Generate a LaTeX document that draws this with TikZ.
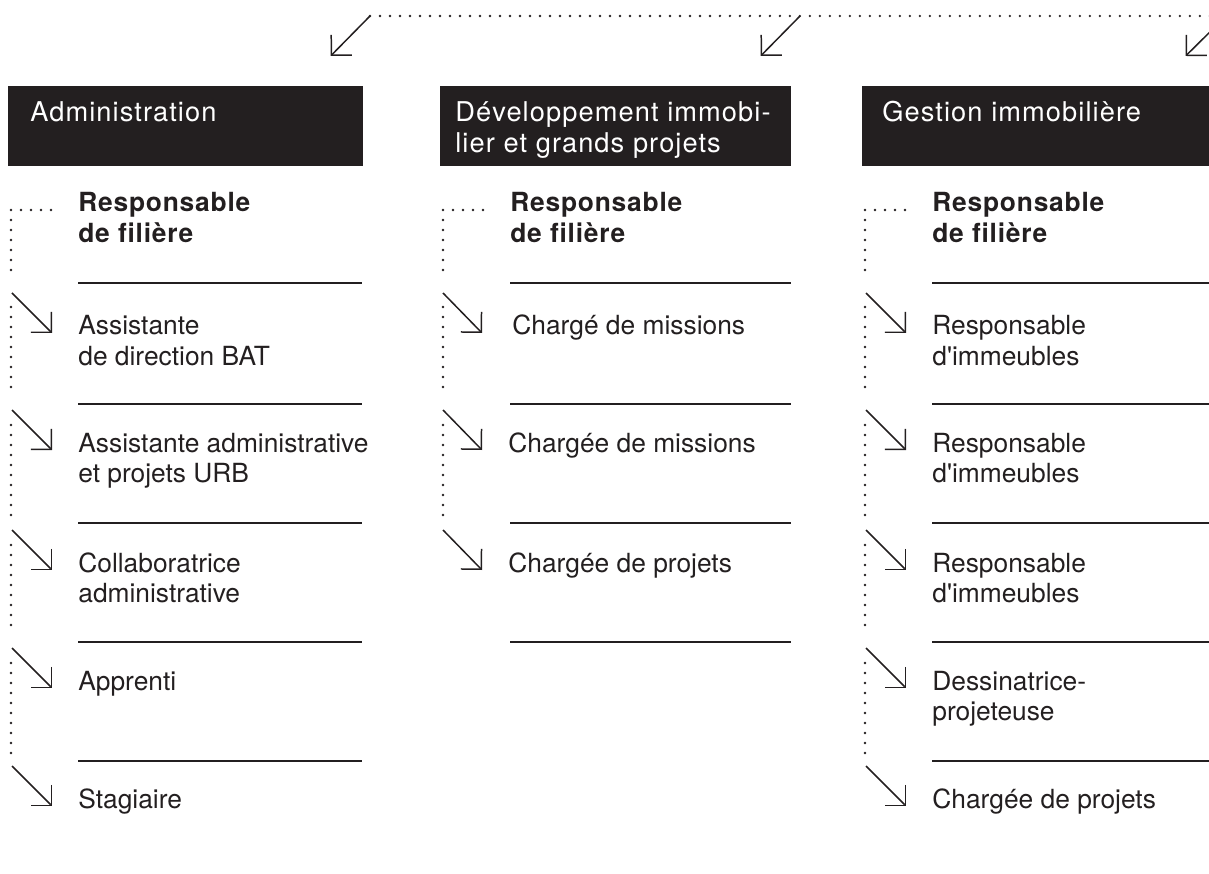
\documentclass[tikz,border=0pt]{standalone}
\usepackage{fontspec}
\usetikzlibrary{arrows.meta}
\definecolor{ink}{HTML}{231F20}
\newfontfamily\headfont[LetterSpace=4,Ligatures=NoCommon]{TeX Gyre Heros}
\newfontfamily\bodyfont[Ligatures=NoCommon]{TeX Gyre Heros}
\newfontfamily\leadfont[LetterSpace=3,Ligatures=NoCommon]{TeX Gyre Heros}
% two lines whose baseline is the first one
\newcommand\twoline[2]{\vtop{\hbox{#1}\hbox{#2}}}

\begin{document}
\begin{tikzpicture}[
  x=0.02cm, y=-0.02cm,
  header/.style={fill=ink, draw=none, anchor=north west, inner sep=0pt,
    minimum width=7.1cm, minimum height=1.6cm},
  headtext/.style={text=white, anchor=base west, inner sep=0pt,
    font=\headfont\fontsize{15.5pt}{17.2pt}\selectfont},
  lead/.style={text=ink, anchor=base west, inner sep=0pt,
    font=\leadfont\bfseries\fontsize{15pt}{17.6pt}\selectfont},
  post/.style={lead, font=\bodyfont\fontsize{15pt}{17.6pt}\selectfont},
  rule/.style={draw=ink, line width=0.75pt},
  trunk/.style={draw=ink, line width=1.5pt, line cap=round,
    dash pattern=on 0pt off 0.2cm},
  pointer/.style={draw=ink, line width=0.85pt,
    -{Straight Barb[angle=90:11.6pt, line cap=butt, line join=miter]}},
]
\useasboundingbox (0,0) rectangle (1209,874);
\clip (0,0) rectangle (1209,874);

% the three black headers
\node[header] (hdA) at (8,86) {};
\node[headtext] (hdAtxt) at ([shift={(22,36)}]hdA.north west) {Administration};
\node[header, minimum width=7.02cm] (hdD) at (440,86) {};
\node[headtext] (hdDtxt) at ([shift={(15,36)}]hdD.north west) {\twoline{Développement immobi-}{lier et grands projets}};
\node[header] (hdG) at (862,86) {};
\node[headtext] (hdGtxt) at ([shift={(20,36)}]hdG.north west) {Gestion immobilière};

% dotted line along the top, one arrow down to each header
\coordinate (topA)   at (370,16);
\coordinate (topD)   at (800,16);
\coordinate (topG)   at (1226,16);
\coordinate (topEnd) at (1215,16);
\draw[trunk] (topA) -- (topEnd);
\draw[pointer] (topA) -- ([shift={(-33,-30)}]hdA.north east);
\draw[pointer] (topD) -- ([shift={(-31,-30)}]hdD.north east);
\draw[pointer] (topG) -- ([shift={(-32,-30)}]hdG.north east);

% Administration
\node[lead] (leadA) at (78,212) {\twoline{Responsable}{de filière}};
\node[post] (itA1) at (78,335) {\twoline{Assistante}{de direction BAT}};
\node[post] (itA2) at (78,452) {\twoline{Assistante administrative}{et projets URB}};
\node[post] (itA3) at (78,572) {\twoline{Collaboratrice}{administrative}};
\node[post] (itA4) at (78,690) {Apprenti};
\node[post] (itA5) at (78,808) {Stagiaire};
\draw[rule] (78,283) -- (362,283);
\draw[rule] (78,404) -- (362,404);
\draw[rule] (78,523) -- (362,523);
\draw[rule] (78,642) -- (362,642);
\draw[rule] (78,761) -- (362,761);
\coordinate (tA1) at (12,293);
\coordinate (tA2) at (12,410);
\coordinate (tA3) at (12,530);
\coordinate (tA4) at (12,648);
\coordinate (tA5) at (12,766);
\draw[trunk] ([shift={(-27,-2)}]leadA.base west) -- (11,210) -- (11,278)
  (11,307) -- (11,396) (11,425) -- (11,516) (11,545) -- (11,634) (11,663) -- (11,753);
\draw[pointer] (tA1) -- ([shift={(-26,-2)}]itA1.base west);
\draw[pointer] (tA2) -- ([shift={(-26,-2)}]itA2.base west);
\draw[pointer] (tA3) -- ([shift={(-26,-2)}]itA3.base west);
\draw[pointer] (tA4) -- ([shift={(-26,-2)}]itA4.base west);
\draw[pointer] (tA5) -- ([shift={(-26,-2)}]itA5.base west);

% Developpement immobilier et grands projets
\node[lead] (leadD) at (510,212) {\twoline{Responsable}{de filière}};
\node[post] (itD1) at (512,335) {Chargé de missions};
\node[post] (itD2) at (508,452) {Chargée de missions};
\node[post] (itD3) at (508,572) {Chargée de projets};
\draw[rule] (510,283) -- (791,283);
\draw[rule] (510,404) -- (791,404);
\draw[rule] (510,523) -- (791,523);
\draw[rule] (510,642) -- (791,642);
\coordinate (tD1) at (443,293);
\coordinate (tD2) at (443,410);
\coordinate (tD3) at (443,530);
\draw[trunk] ([shift={(-27,-2)}]leadD.base west) -- (443,210) -- (443,278)
  (443,307) -- (443,396) (443,425) -- (443,516);
\draw[pointer] (tD1) -- ([shift={(-30,-2)}]itD1.base west);
\draw[pointer] (tD2) -- ([shift={(-26,-2)}]itD2.base west);
\draw[pointer] (tD3) -- ([shift={(-26,-2)}]itD3.base west);

% Gestion immobiliere
\node[lead] (leadG) at (932,212) {\twoline{Responsable}{de filière}};
\node[post] (itG1) at (932,335) {\twoline{Responsable}{d\textquotesingle immeubles}};
\node[post] (itG2) at (932,452) {\twoline{Responsable}{d\textquotesingle immeubles}};
\node[post] (itG3) at (932,572) {\twoline{Responsable}{d\textquotesingle immeubles}};
\node[post] (itG4) at (932,690) {\twoline{Dessinatrice-}{projeteuse}};
\node[post] (itG5) at (932,808) {Chargée de projets};
\draw[rule] (932,283) -- (1216,283);
\draw[rule] (932,404) -- (1216,404);
\draw[rule] (932,523) -- (1216,523);
\draw[rule] (932,642) -- (1216,642);
\draw[rule] (932,761) -- (1216,761);
\coordinate (tG1) at (866,293);
\coordinate (tG2) at (866,410);
\coordinate (tG3) at (866,530);
\coordinate (tG4) at (866,648);
\coordinate (tG5) at (866,766);
\draw[trunk] ([shift={(-27,-2)}]leadG.base west) -- (865,210) -- (865,278)
  (865,307) -- (865,396) (865,425) -- (865,516) (865,545) -- (865,634) (865,663) -- (865,753);
\draw[pointer] (tG1) -- ([shift={(-26,-2)}]itG1.base west);
\draw[pointer] (tG2) -- ([shift={(-26,-2)}]itG2.base west);
\draw[pointer] (tG3) -- ([shift={(-26,-2)}]itG3.base west);
\draw[pointer] (tG4) -- ([shift={(-26,-2)}]itG4.base west);
\draw[pointer] (tG5) -- ([shift={(-26,-2)}]itG5.base west);
\end{tikzpicture}
\end{document}
